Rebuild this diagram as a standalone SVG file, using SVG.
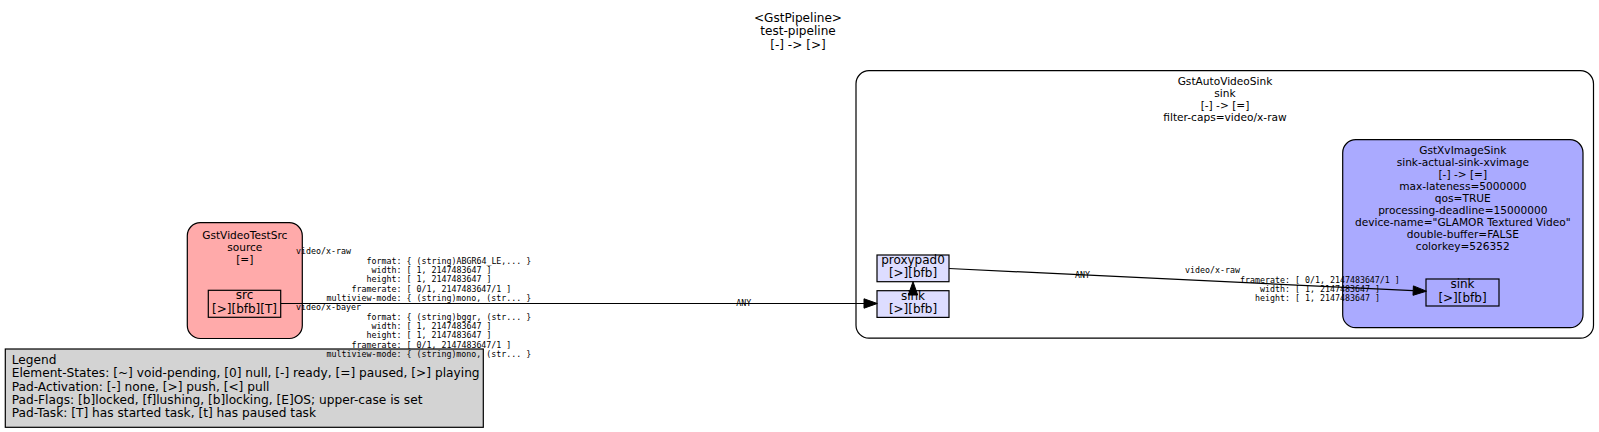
<svg xmlns="http://www.w3.org/2000/svg" width="1599" height="432" viewBox="0 0 1599 432">
<defs>
<style>
text{font-family:"DejaVu Sans","Liberation Sans",sans-serif;fill:#000}
.t{font-size:12.1px;text-anchor:middle}
.n{font-size:10.6px;text-anchor:middle}
.p{font-size:12px;text-anchor:middle}
.lg{font-size:12.2px}
.c{font-family:"DejaVu Sans Mono","Liberation Mono",monospace;font-size:8.3px}
.cm{font-family:"DejaVu Sans Mono","Liberation Mono",monospace;font-size:8.3px;text-anchor:middle}
.box{stroke:#000;stroke-width:1.2}
.edge{stroke:#000;stroke-width:1.2;fill:none}
.ah{fill:#000;stroke:#000;stroke-width:1}
</style>
</defs>
<rect width="1599" height="432" fill="#fff"/>

<g id="pipeline-label">
<text class="t" x="798" y="21.5">&lt;GstPipeline&gt;</text>
<text class="t" x="798" y="35">test-pipeline</text>
<text class="t" x="798" y="48.5">[-] -&gt; [&gt;]</text>
</g>

<g id="source">
<rect class="box" x="187.3" y="222.7" width="115" height="115.8" rx="13" fill="#ffaaaa"/>
<text class="n" x="244.8" y="238.5">GstVideoTestSrc</text>
<text class="n" x="244.8" y="250.5">source</text>
<text class="n" x="244.8" y="262.5">[=]</text>
</g>

<g id="source_src">
<rect class="box" x="208.3" y="290.3" width="72.4" height="27" fill="#ffaaaa"/>
<text class="p" x="244.5" y="299.3">src</text>
<text class="p" x="244.5" y="312.8">[&gt;][bfb][T]</text>
</g>

<g id="sink">
<rect class="box" x="856" y="70.7" width="737.5" height="267.5" rx="13" fill="#ffffff"/>
<text class="n" x="1225" y="84.8">GstAutoVideoSink</text>
<text class="n" x="1225" y="96.8">sink</text>
<text class="n" x="1225" y="108.8">[-] -&gt; [=]</text>
<text class="n" x="1225" y="120.8">filter-caps=video/x-raw</text>
</g>

<g id="sink-actual-sink-xvimage">
<rect class="box" x="1342.7" y="139.7" width="240.3" height="188" rx="13" fill="#aaaaff"/>
<text class="n" x="1462.8" y="154">GstXvImageSink</text>
<text class="n" x="1462.8" y="166">sink-actual-sink-xvimage</text>
<text class="n" x="1462.8" y="178">[-] -&gt; [=]</text>
<text class="n" x="1462.8" y="190">max-lateness=5000000</text>
<text class="n" x="1462.8" y="202">qos=TRUE</text>
<text class="n" x="1462.8" y="214">processing-deadline=15000000</text>
<text class="n" x="1462.8" y="226">device-name=&quot;GLAMOR Textured Video&quot;</text>
<text class="n" x="1462.8" y="238">double-buffer=FALSE</text>
<text class="n" x="1462.8" y="250">colorkey=526352</text>
</g>

<g id="xvimage_sink">
<rect class="box" x="1426" y="279" width="73" height="27" fill="#aaaaff"/>
<text class="p" x="1462.5" y="288">sink</text>
<text class="p" x="1462.5" y="301.5">[&gt;][bfb]</text>
</g>

<g id="sink_proxypad0">
<rect class="box" x="877" y="255" width="72" height="26.7" fill="#ddddff"/>
<text class="p" x="913" y="263.8">proxypad0</text>
<text class="p" x="913" y="277.3">[&gt;][bfb]</text>
</g>

<g id="sink_sink">
<rect class="box" x="877" y="290.7" width="72" height="26.7" fill="#ddddff"/>
<text class="p" x="913" y="299.8">sink</text>
<text class="p" x="913" y="313.3">[&gt;][bfb]</text>
</g>

<g id="legend">
<rect class="box" x="5.3" y="349" width="478" height="78.3" fill="#d3d3d3"/>
<text class="lg" x="11.7" y="364">Legend</text>
<text class="lg" x="11.7" y="377.3">Element-States: [~] void-pending, [0] null, [-] ready, [=] paused, [&gt;] playing</text>
<text class="lg" x="11.7" y="390.6">Pad-Activation: [-] none, [&gt;] push, [&lt;] pull</text>
<text class="lg" x="11.7" y="403.9">Pad-Flags: [b]locked, [f]lushing, [b]locking, [E]OS; upper-case is set</text>
<text class="lg" x="11.7" y="417.2">Pad-Task: [T] has started task, [t] has paused task</text>
</g>

<g id="connectors">
<line class="edge" x1="280.7" y1="303.5" x2="864" y2="303.5"/>
<polygon class="ah" points="877.3,303.5 864,298.8 864,308.2"/>
<text class="cm" x="743.7" y="306">ANY</text>
<text class="c" x="296" y="254.2">video/x-raw</text>
<text class="c" x="366.5" y="263.5">format: { (string)ABGR64_LE,... }</text>
<text class="c" x="371.5" y="272.9">width: [ 1, 2147483647 ]</text>
<text class="c" x="366.5" y="282.2">height: [ 1, 2147483647 ]</text>
<text class="c" x="351.5" y="291.5">framerate: [ 0/1, 2147483647/1 ]</text>
<text class="c" x="326.5" y="300.9">multiview-mode: { (string)mono, (str... }</text>
<text class="c" x="296" y="310.2">video/x-bayer</text>
<text class="c" x="366.5" y="319.5">format: { (string)bggr, (str... }</text>
<text class="c" x="371.5" y="328.8">width: [ 1, 2147483647 ]</text>
<text class="c" x="366.5" y="338.2">height: [ 1, 2147483647 ]</text>
<text class="c" x="351.5" y="347.5">framerate: [ 0/1, 2147483647/1 ]</text>
<text class="c" x="326.5" y="356.8">multiview-mode: { (string)mono, (str... }</text>

<polygon class="ah" points="913,281.7 908.3,295 917.7,295"/>

<line class="edge" x1="949" y1="268.5" x2="1413.2" y2="290.6"/>
<polygon class="ah" points="1426.5,291.2 1413.4,285.9 1413,295.3"/>
<text class="cm" x="1082.5" y="278">ANY</text>
<text class="c" x="1185" y="273.2">video/x-raw</text>
<text class="c" x="1240" y="282.5">framerate: [ 0/1, 2147483647/1 ]</text>
<text class="c" x="1260" y="291.8">width: [ 1, 2147483647 ]</text>
<text class="c" x="1255" y="301.2">height: [ 1, 2147483647 ]</text>
</g>
</svg>
